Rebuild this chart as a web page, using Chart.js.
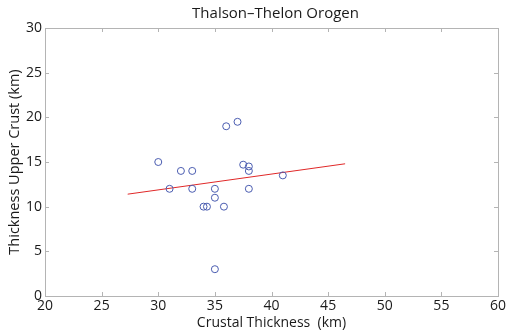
<!DOCTYPE html>
<html>
<head>
<meta charset="utf-8">
<script src="https://cdn.jsdelivr.net/npm/chart.js@4"></script>
<style>
  html, body { margin: 0; padding: 0; background: #fff; }
  #wrap { width: 512px; height: 331px; position: relative; }
</style>
</head>
<body>
<div id="wrap"><canvas id="crustChart"></canvas></div>
<script>
// crustal thickness vs upper crust thickness (km)
const crustalThickness = [30, 31, 32, 33, 33, 35, 35, 34, 34.3, 35.8, 35, 36, 37, 37.5, 38, 38, 38, 41];
const upperCrust       = [15, 12, 14, 14, 12, 12, 11, 10, 10, 10, 3, 19, 19.5, 14.7, 14.5, 14, 12, 13.5];

// regression line end points
const fitX = [27.3, 46.5];
const fitY = [11.4, 14.8];

const xTicks = [20, 25, 30, 35, 40, 45, 50, 55, 60];
const yTicks = [0, 5, 10, 15, 20, 25, 30];

const FONT = "'Open Sans', 'Noto Sans', sans-serif";

// box frame, inward ticks and title
const framePlugin = {
  id: 'frame',
  afterDraw(chart) {
    const { ctx, chartArea: a, scales } = chart;
    ctx.save();
    ctx.strokeStyle = '#b4b4b4';
    ctx.lineWidth = 1;
    ctx.strokeRect(a.left + 0.5, a.top + 0.5, a.right - a.left, a.bottom - a.top);
    ctx.beginPath();
    xTicks.forEach(v => {
      const x = Math.round(scales.x.getPixelForValue(v)) + 0.5;
      ctx.moveTo(x, a.bottom); ctx.lineTo(x, a.bottom - 4);
      ctx.moveTo(x, a.top); ctx.lineTo(x, a.top + 4);
    });
    yTicks.forEach(v => {
      const y = Math.round(scales.y.getPixelForValue(v)) + 0.5;
      ctx.moveTo(a.left, y); ctx.lineTo(a.left + 4, y);
      ctx.moveTo(a.right, y); ctx.lineTo(a.right - 4, y);
    });
    ctx.stroke();
    ctx.fillStyle = '#1a1a1a';
    ctx.font = '15px ' + FONT;
    ctx.textAlign = 'center';
    ctx.textBaseline = 'middle';
    ctx.fillText('Thalson\u2013Thelon Orogen', (a.left + a.right) / 2 + 4, 14);
    ctx.restore();
  }
};

new Chart(document.getElementById('crustChart'), {
  type: 'scatter',
  data: {
    datasets: [
      {
        data: crustalThickness.map((x, i) => ({ x: x, y: upperCrust[i] })),
        pointStyle: 'circle',
        pointRadius: 3.5,
        pointBorderWidth: 1,
        borderColor: '#4a5cb0',
        backgroundColor: 'rgba(0,0,0,0)',
        showLine: false
      },
      {
        data: fitX.map((x, i) => ({ x: x, y: fitY[i] })),
        showLine: true,
        borderColor: '#e02828',
        borderWidth: 1,
        pointRadius: 0
      }
    ]
  },
  options: {
    responsive: true,
    maintainAspectRatio: false,
    animation: false,
    layout: { padding: { top: 28, right: 14, left: 0, bottom: 0 } },
    plugins: { legend: { display: false }, tooltip: { enabled: false } },
    scales: {
      x: {
        type: 'linear', min: 20, max: 60,
        afterBuildTicks: s => { s.ticks = xTicks.map(v => ({ value: v })); },
        afterFit: s => { s.height = 35; },
        grid: { display: false, drawTicks: false },
        border: { display: false },
        ticks: { color: '#1a1a1a', font: { family: FONT, size: 14 }, padding: 2, maxRotation: 0 },
        title: { display: true, text: 'Crustal Thickness  (km)', color: '#1a1a1a', font: { family: FONT, size: 14 }, padding: { top: -4, bottom: 0 } }
      },
      y: {
        type: 'linear', min: 0, max: 30,
        afterBuildTicks: s => { s.ticks = yTicks.map(v => ({ value: v })); },
        afterFit: s => { s.width = 45; },
        grid: { display: false, drawTicks: false },
        border: { display: false },
        ticks: { color: '#1a1a1a', font: { family: FONT, size: 14 }, padding: 3 },
        title: { display: true, text: 'Thickness Upper Crust (km)', color: '#1a1a1a', font: { family: FONT, size: 14.5 }, padding: { top: 6, bottom: 0 } }
      }
    }
  },
  plugins: [framePlugin]
});
</script>
</body>
</html>
